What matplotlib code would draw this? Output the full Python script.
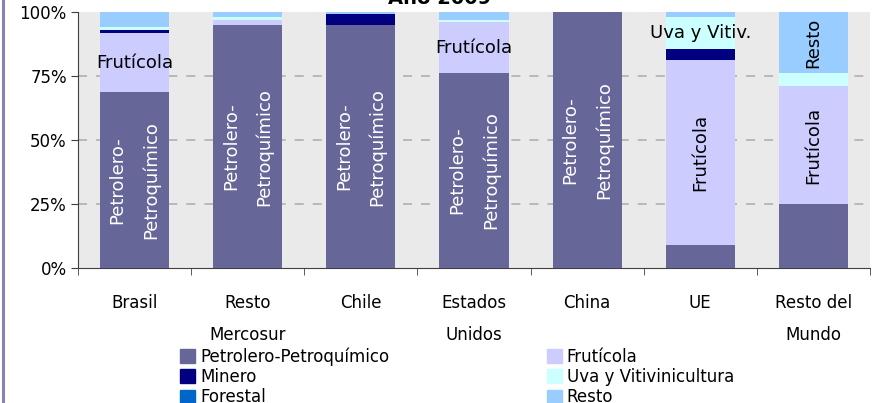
import numpy as np
import matplotlib
matplotlib.use('Agg')
import matplotlib.pyplot as plt
from matplotlib.patches import Rectangle
from matplotlib.lines import Line2D

# data (percent of each destination)
categorias = ['Brasil', 'Resto\nMercosur', 'Chile', 'Estados\nUnidos', 'China', 'UE', 'Resto del\nMundo']
series = ['Petrolero-Petroquímico', 'Frutícola', 'Minero', 'Forestal', 'Uva y Vitivinicultura', 'Resto']
petrolero = [68.7, 94.9, 94.9, 76.2, 100.0, 9.0, 25.0]
fruticola = [23.1, 2.0, 0.0, 19.9, 0.0, 72.3, 46.1]
minero = [1.2, 0.0, 4.3, 0.0, 0.0, 4.3, 0.0]
forestal = [0.0, 0.0, 0.0, 0.0, 0.0, 0.0, 0.0]
uva = [1.1, 1.2, 0.0, 0.8, 0.0, 12.4, 5.1]
resto = [5.9, 1.9, 0.8, 3.1, 0.0, 2.0, 23.8]
colores = ['#666699', '#CCCCFF', '#000080', '#0066CC', '#CCFFFF', '#99CCFF']
titulo = 'Año 2009'

# etiquetas dentro de las barras: (categoria, serie, texto, rotacion, color)
etiquetas = [
    (0, 0, 'Petrolero-\nPetroquímico', 90, 'white'),
    (0, 1, 'Frutícola', 0, 'black'),
    (1, 0, 'Petrolero-\nPetroquímico', 90, 'white'),
    (2, 0, 'Petrolero-\nPetroquímico', 90, 'white'),
    (3, 0, 'Petrolero-\nPetroquímico', 90, 'white'),
    (3, 1, 'Frutícola', 0, 'black'),
    (4, 0, 'Petrolero-\nPetroquímico', 90, 'white'),
    (5, 1, 'Frutícola', 90, 'black'),
    (5, 4, 'Uva y Vitiv.', 0, 'black'),
    (6, 1, 'Frutícola', 90, 'black'),
    (6, 5, 'Resto', 90, 'black'),
]

valores = np.array([petrolero, fruticola, minero, forestal, uva, resto])
x = np.arange(len(categorias))

fig = plt.figure(figsize=(8.79, 4.03), dpi=100)
ax = fig.add_axes([0.0887, 0.335, 0.9011, 0.635])
ax.set_facecolor('#EAEAEA')

base = np.zeros(len(categorias))
for i, nombre in enumerate(series):
    ax.bar(x, valores[i], 0.61, bottom=base, color=colores[i], label=nombre, zorder=3)
    base = base + valores[i]

acum = np.vstack([np.zeros(len(categorias)), np.cumsum(valores, axis=0)])
for c, s, txt, rot, col in etiquetas:
    ymid = (acum[s, c] + acum[s + 1, c]) / 2
    ax.text(x[c], ymid, txt, rotation=rot, color=col, ha='center', va='center',
            fontsize=13, linespacing=2.05, zorder=4)

ax.set_xlim(-0.5, len(categorias) - 0.5)
ax.set_ylim(0, 100)
ax.set_yticks([0, 25, 50, 75, 100])
ax.set_yticklabels(['0%', '25%', '50%', '75%', '100%'], fontsize=12)
for yv in [25, 50, 75]:
    ax.axhline(yv, linestyle=(0, (5, 5)), color='#B4B4B4', linewidth=1.3, zorder=1)

ax.set_xticks(x)
ax.set_xticklabels(categorias, fontsize=12, linespacing=1.95)
ax.set_xticks(np.arange(len(categorias) + 1) - 0.5, minor=True)
ax.tick_params(axis='x', which='major', length=0, pad=19)
ax.tick_params(axis='x', which='minor', length=5, color='#404040')
ax.tick_params(axis='y', length=5, color='#404040', pad=3)

for lado in ['top', 'right']:
    ax.spines[lado].set_visible(False)
for lado in ['left', 'bottom']:
    ax.spines[lado].set_color('#404040')

fig.text(0.5, 1 - 4 / 403, titulo, ha='center', va='baseline', fontsize=14, fontweight='bold')

# leyenda
handles = [Rectangle((0, 0), 1, 1, color=colores[i]) for i in [0, 2, 3, 1, 4, 5]]
nombres = [series[i] for i in [0, 2, 3, 1, 4, 5]]
fig.legend(handles, nombres, loc='upper left', bbox_to_anchor=(0.205, 1 - 347 / 403),
           ncol=2, frameon=False, fontsize=12, handlelength=0.9, handleheight=0.9,
           handletextpad=0.3, labelspacing=0.15, columnspacing=9.45, borderpad=0,
           borderaxespad=0)

# borde izquierdo del grafico
fig.add_artist(Line2D([3.5 / 879, 3.5 / 879], [0, 1], color='#8484AC', linewidth=2.2))

fig.savefig('out.png', dpi=100)
